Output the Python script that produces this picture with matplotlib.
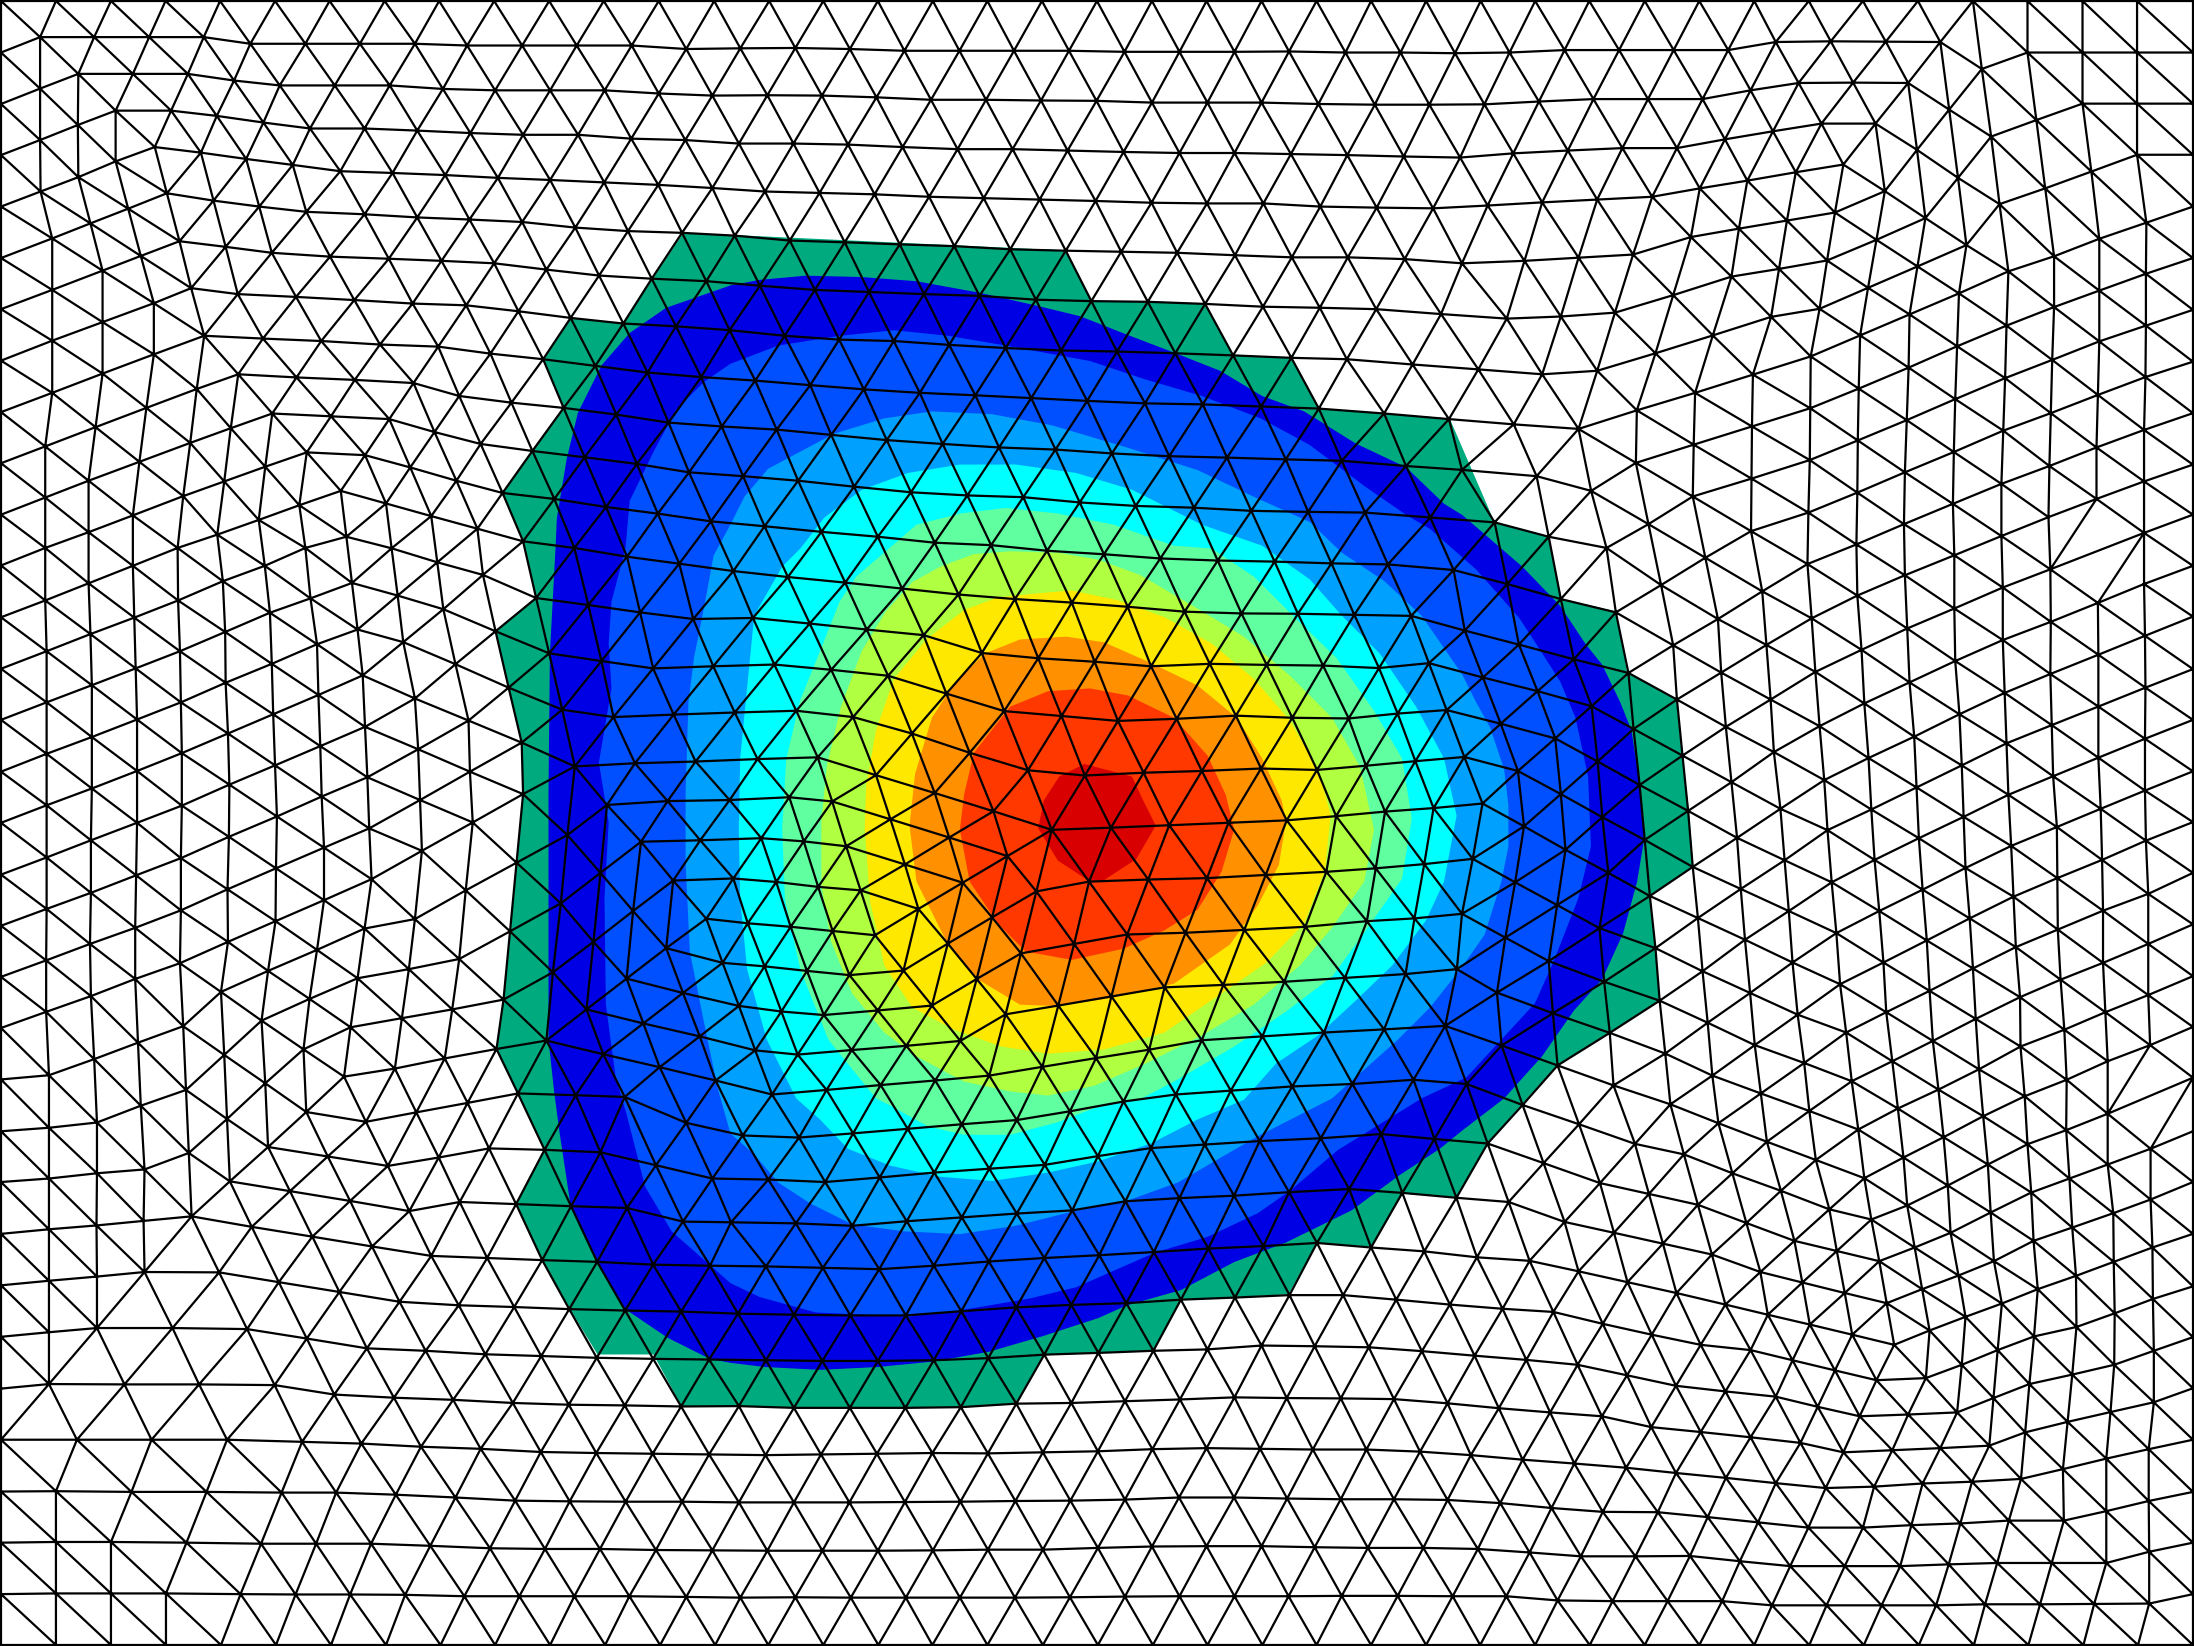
import numpy as np
import matplotlib
matplotlib.use("Agg")
import matplotlib.pyplot as plt
import matplotlib.tri as mtri

WIDTH = 2194
HEIGHT = 1646
CROP_W = 731
CROP_H = 549
CROP_SCALE = 1568
SHRUNK = 2194 / 1568

# mesh nodes, read tile by tile off the reference (tile pixels, 1568 per side)
nodes_tl = [
    (5,5),(120,5),(238,5),(355,5),(472,5),(590,5),(707,5),(825,5),(942,5),(1060,5),(1178,5),(1295,5),(1413,5),(1532,5),
    (5,150),(86,106),(202,106),(320,106),(437,106),(537,125),(655,125),(772,125),(890,125),(1002,130),(1120,130),(1237,130),(1355,130),(1472,140),
    (5,297),(86,253),(168,211),(285,211),(403,211),(502,230),(600,244),(718,244),(836,244),(950,254),(1062,258),(1180,258),(1297,258),(1413,267),(1528,273),
    (5,443),(86,400),(167,357),(248,316),(367,316),(465,331),(565,350),(665,367),(782,367),(895,373),(1009,380),(1122,385),(1240,385),(1354,396),(1470,400),
    (5,590),(87,547),(168,506),(248,461),(332,420),(431,436),(528,454),(628,471),(730,489),(842,494),(955,500),(1068,508),(1180,514),(1296,521),(1412,528),(1528,537),
    (5,737),(112,681),(194,638),(275,596),(358,552),(458,573),(556,590),(657,605),(782,612),(895,621),(1007,627),(1120,634),(1234,650),(1347,660),(1463,665),
    (5,883),(112,828),(220,773),(302,731),(385,689),(484,705),(583,722),(708,733),(834,739),(947,745),(1060,752),(1172,770),(1285,787),(1398,796),(1515,803),
    (5,1030),(112,973),(220,920),(330,866),(410,823),(510,840),(635,848),(760,857),(885,867),(1000,872),(1112,889),(1224,908),(1337,924),(1450,932),(1565,943),
    (5,1177),(112,1122),(220,1067),(330,1012),(438,959),(564,967),(689,974),(815,984),(940,990),(1052,1010),(1165,1026),(1277,1045),(1389,1064),(1504,1077),
    (5,1323),(97,1275),(205,1220),(314,1165),(422,1111),(511,1069),(636,1078),(761,1085),(887,1094),(985,1131),(1097,1150),(1209,1165),(1322,1184),(1434,1207),(1548,1218),
    (5,1470),(97,1421),(190,1373),(299,1319),(408,1265),(495,1223),(584,1181),(710,1189),(835,1197),(932,1234),(1031,1268),(1142,1288),(1254,1306),(1366,1325),(1478,1349),
    (97,1565),(190,1520),(285,1472),(393,1417),(481,1375),(569,1333),(658,1292),(783,1300),(880,1335),(979,1373),(1078,1408),(1189,1425),(1300,1448),(1411,1467),(1525,1489),
    (466,1527),(555,1485),(642,1443),(731,1402),(828,1438),(925,1474),(1024,1510),(1122,1546),(743,1533),
    (381,1565),(655,1565),(840,1566),(1232,1565),
]
nodes_tc = [
    (82,5),(198,5),(315,5),(433,5),(550,5),(667,5),(785,5),(903,5),(1020,5),(1138,5),(1256,5),(1373,5),(1491,5),
    (20,138),(138,137),(255,140),(372,145),(490,145),(607,145),(725,145),(844,148),(962,148),(1080,148),(1197,147),(1318,150),(1436,150),(1553,152),
    (78,272),(195,273),(312,278),(429,285),(547,285),(665,287),(784,288),(903,293),(1022,293),(1138,293),(1260,297),(1381,299),(1498,299),
    (17,410),(134,410),(251,413),(368,420),(486,426),(604,426),(722,430),(842,434),(962,437),(1080,437),(1201,440),(1322,443),(1443,447),(1564,450),
    (73,547),(190,551),(308,555),(425,562),(542,566),(662,570),(782,574),(902,579),(1021,581),(1142,581),(1264,590),(1385,593),(1506,595),
    (8,673),(126,687),(244,692),(362,698),(479,703),(599,712),(718,716),(837,719),(957,722),(1081,729),(1203,735),(1323,735),(1445,740),(1568,752),
    (62,816),(180,828),(296,834),(414,840),(533,845),(654,856),(773,860),(894,862),(1017,868),(1141,876),(1263,879),(1384,883),(1523,897),
    (0,945),(115,959),(232,970),(349,974),(468,985),(589,994),(708,1001),(828,1004),(953,1009),(1077,1015),(1202,1022),(1321,1026),(1462,1041),
    (52,1087),(170,1100),(285,1112),(405,1122),(524,1129),(644,1137),(764,1145),(888,1152),(1012,1155),(1137,1161),(1261,1167),(1401,1181),(1540,1197),
    (98,1227),(215,1242),(334,1257),(454,1268),(575,1278),(696,1284),(817,1295),(940,1303),(1064,1307),(1190,1312),(1310,1316),(1448,1331),(1568,1342),
    (26,1360),(144,1373),(264,1390),(386,1406),(507,1415),(627,1420),(748,1435),(868,1445),(993,1450),(1116,1459),(1238,1462),(1360,1464),(1500,1478),
    (72,1503),(194,1519),(315,1533),(437,1550),(558,1557),
]
nodes_tr = [
    (40,5),(157,5),(273,5),(392,5),(509,5),(627,5),(744,5),(860,5),(978,5),(1096,5),(1213,5),(1331,5),(1448,5),(1565,5),
    (102,150),(220,143),(337,143),(454,143),(571,143),(673,120),(791,118),(909,119),(1026,120),(1115,197),(1213,150),(1331,150),(1448,150),(1565,150),
    (48,298),(165,290),(282,283),(399,283),(516,283),(619,258),(722,237),(839,236),(957,237),(1045,313),(1232,343),(1331,296),(1448,296),(1565,296),
    (110,438),(227,430),(344,423),(461,423),(564,398),(667,375),(771,353),(887,353),(976,428),(1135,390),(1350,490),(1448,442),(1565,442),
    (55,587),(172,578),(290,570),(408,562),(510,538),(612,516),(716,492),(818,470),(907,546),(1064,508),(1251,538),(1468,636),(1565,590),
    (16,753),(134,745),(250,736),(367,727),(491,677),(594,653),(697,630),(800,607),(994,623),(1153,583),(1367,682),(1565,737),
    (96,910),(212,904),(328,893),(453,843),(578,790),(680,768),(783,744),(889,685),(1082,700),(1270,732),(1467,782),
    (35,1055),(172,1069),(290,1059),(415,1009),(538,958),(663,905),(767,882),(871,822),(977,761),(1172,775),(1367,830),(1565,885),
    (111,1212),(250,1225),(375,1172),(500,1122),(624,1070),(748,1018),(854,958),(960,898),(1066,838),(1270,877),(1467,930),
    (20,1347),(160,1360),(277,1402),(373,1322),(497,1270),(622,1218),(747,1166),(851,1110),(958,1050),(1062,989),(1168,930),(1367,975),(1565,1033),
    (70,1492),(186,1533),(400,1497),(495,1418),(621,1367),(746,1314),(849,1258),(954,1200),(1058,1140),(1165,1080),(1266,1028),(1466,1077),
    (310,1565),(620,1517),(743,1464),(848,1407),(950,1349),(1055,1291),(1161,1230),(1263,1180),(1364,1128),(1565,1180),
    (846,1555),(948,1497),(1053,1439),(1157,1382),(1260,1331),(1361,1278),(1463,1228),
    (1157,1531),(1258,1477),(1361,1425),(1565,1327),(1463,1375),(1463,1522),(1565,1470),
]
nodes_ml = [
    (5,47),(5,195),(5,342),(5,488),(5,636),(5,782),(5,930),(5,1076),(5,1222),(5,1368),(5,1515),
    (97,147),(100,292),(100,438),(100,585),(100,732),(100,881),(100,1028),(99,1175),(99,1322),(105,1503),
    (190,98),(194,243),(197,389),(197,537),(197,684),(195,832),(195,982),(193,1128),(195,1277),(202,1457),
    (285,48),(288,196),(291,341),(294,487),(294,634),(294,782),(292,932),(290,1082),(290,1228),(296,1410),
    (382,147),(386,292),(388,438),(390,583),(390,733),(388,883),(388,1032),(386,1183),(393,1363),(399,1545),
    (478,92),(483,237),(484,382),(489,527),(492,673),(491,822),(488,972),(489,1122),(474,1265),(481,1445),
    (568,48),(579,182),(583,328),(586,472),(590,618),(594,764),(592,912),(591,1063),(575,1205),(561,1347),(569,1526),
    (666,141),(680,272),(683,417),(687,563),(690,707),(695,853),(695,1003),(680,1145),(664,1285),(651,1429),
    (755,97),(767,230),(778,361),(783,508),(788,652),(792,798),(797,943),(782,1084),(767,1226),(752,1366),(738,1507),
    (853,133),(865,266),(890,427),(897,572),(901,717),(905,862),(890,1057),(877,1200),(862,1340),(847,1484),
    (938,38),(951,172),(977,329),(1005,490),(1008,636),(1014,781),(999,975),(985,1171),(970,1315),(954,1455),
    (1036,74),(1063,235),(1091,396),(1119,553),(1122,700),(1108,896),(1094,1092),(1080,1287),(1065,1428),(1111,1555),
    (1150,140),(1178,298),(1206,459),(1233,621),(1217,817),(1203,1012),(1186,1209),(1172,1404),(1235,1560),
    (1262,160),(1290,320),(1316,480),(1302,731),(1288,925),(1273,1122),(1258,1315),(1294,1443),(1340,1565),
    (1345,22),(1373,181),(1401,341),(1362,612),(1375,836),(1358,1034),(1344,1227),(1380,1355),(1415,1480),
    (1457,42),(1487,200),(1445,473),(1432,720),(1444,947),(1429,1140),(1465,1268),(1501,1392),(1535,1518),
    (1530,335),(1492,607),(1502,832),(1515,1056),(1550,1182),(1565,717),
]
nodes_mc = [
    (5,63),(122,80),(245,96),(367,113),(488,130),(609,143),(731,153),(851,165),(973,179),(1095,184),(1216,185),(1337,188),(1459,191),
    (678,5),(800,15),(921,27),(1044,33),(1166,36),(1288,41),(1409,44),(1550,60),
    (47,197),(169,213),(291,230),(413,246),(538,297),(659,312),(780,322),(901,335),(1027,328),(1149,331),(1270,333),(1390,340),(1497,326),
    (93,330),(215,345),(337,362),(462,413),(586,463),(709,477),(830,491),(956,485),(1083,476),(1204,482),(1325,484),(1430,470),(1535,460),
    (8,467),(140,462),(262,480),(388,527),(512,582),(637,632),(759,647),(885,639),(1010,634),(1137,627),(1257,631),(1362,619),(1468,606),
    (57,600),(186,595),(311,646),(437,697),(563,749),(688,802),(815,796),(940,789),(1067,782),(1192,775),(1298,763),(1403,750),(1507,740),
    (125,709),(217,721),(342,772),(468,824),(593,877),(768,950),(895,944),(1021,940),(1147,931),(1277,922),(1383,912),(1487,900),
    (65,826),(156,835),(247,849),(373,901),(497,953),(655,978),
    (5,941),(97,951),(187,965),(278,975),(402,1028),(560,1052),
    (36,1069),(128,1079),(218,1091),(309,1103),(465,1127),(736,1128),(850,1101),(975,1096),(1101,1088),(1232,1079),(1364,1063),(1466,1055),
    (72,1192),(163,1205),(254,1217),(370,1204),(527,1228),(622,1155),(816,1278),(930,1252),(1056,1245),(1187,1236),(1317,1225),(1447,1214),(1557,1200),
    (17,1305),(108,1321),(199,1331),(315,1318),(431,1304),(589,1329),(702,1304),
    (52,1432),(143,1444),(259,1431),(376,1419),(492,1405),(668,1479),(783,1454),(897,1430),(1010,1403),(1140,1392),(1272,1381),(1401,1372),(1532,1362),
    (88,1558),(205,1545),(321,1531),(438,1518),(554,1504),(954,1558),(1072,1547),(1204,1535),(1333,1528),(1464,1516),
]
nodes_mr = [
    (97,100),(212,143),(330,181),(303,5),(427,103),(522,25),(644,121),(741,43),(848,133),(950,75),(1056,18),(1056,170),(1160,110),(1262,58),(1364,154),(1463,100),
    (6,233),(122,273),(240,315),(357,354),(461,430),(566,508),(669,580),(777,660),(878,744),
    (45,367),(162,406),(278,449),(368,514),(473,590),(578,666),(683,742),(784,803),
    (83,499),(200,541),(291,607),(381,674),(485,748),(590,825),(692,889),(793,952),
    (5,594),(120,634),(212,700),(301,766),(392,831),(495,908),(598,971),(701,1034),(803,1097),
    (44,727),(133,792),(222,859),(314,925),(403,991),(506,1054),(607,1116),(709,1181),(811,1243),
    (23,885),(114,952),(204,1017),(295,1083),(415,1140),(516,1206),(618,1268),(720,1330),(824,1381),
    (0,1042),(93,1110),(186,1177),(305,1236),(424,1290),(527,1353),(628,1417),(734,1468),(836,1520),
    (75,1267),(195,1326),(317,1382),(436,1441),(537,1504),(641,1555),
    (85,1418),(205,1475),(325,1532),(10,1528),
    (453,275),(549,200),(750,198),(955,227),(1160,260),(1263,208),(1465,248),
    (556,353),(653,274),(857,288),(1058,320),(1262,357),(1365,302),(1565,343),
    (662,430),(758,351),(960,381),(1164,411),(1365,450),(1466,396),
    (767,506),(863,441),(1067,472),(1265,503),(1465,542),(1565,488),
    (872,597),(970,536),(1168,555),(1365,596),(1268,649),(1565,635),
    (671,581),(975,681),(1072,618),(1172,702),(1370,742),(1465,690),
    (1076,765),(1276,794),(1565,780),
    (980,826),(1178,848),(1373,888),(1467,833),
    (885,888),(1080,911),(1277,940),(1565,925),
    (988,973),(1183,993),(1472,985),
    (895,1034),(1089,1055),(1278,1087),(1375,1033),
    (997,1118),(1188,1137),(1472,1128),
    (904,1181),(1096,1198),(1375,1182),
    (1003,1262),(1284,1230),(1472,1274),
    (910,1323),(1102,1342),(1292,1373),(1380,1323),
    (1010,1405),(1197,1280),(1198,1421),(1476,1417),
    (923,1463),(1109,1486),(1385,1463),
    (1022,1544),(1297,1516),(1207,1563),
    (1565,48),(1565,193),(1565,1072),(1565,1220),(1565,1365),(1565,1510),
]
nodes_bl = [
    (5,95),(5,240),(5,388),(5,535),(5,682),(5,830),(5,976),(5,1124),(5,1270),(5,1417),(5,1563),
    (105,85),(208,70),(302,22),(105,230),(208,215),(310,204),(405,157),(487,60),(657,40),(785,68),(893,41),(1003,14),
    (575,140),(703,167),(832,194),(941,170),(1049,144),(1168,148),(1288,155),(1407,192),(1528,230),
    (105,375),(207,364),(308,351),(411,338),(493,238),(622,266),(751,294),(878,323),(986,297),(1107,303),(1225,309),(1345,314),(1465,353),(1568,355),
    (105,522),(208,510),(310,497),(470,498),(540,368),(670,396),(798,424),(925,451),(1045,457),(1163,463),(1281,468),(1401,476),(1523,479),
    (105,669),(208,657),(370,657),(530,660),(598,526),(728,554),(857,582),(984,592),(1103,597),(1221,603),(1341,607),(1461,610),
    (105,817),(267,818),(427,818),(589,820),(658,687),(787,715),(913,722),(1041,732),(1161,737),(1280,742),(1401,745),(1521,747),
    (165,976),(325,976),(487,976),(717,847),(845,856),(972,862),(1100,871),(1220,876),(1340,878),(1461,881),
    (120,1123),(282,1125),(443,1125),(648,982),(775,987),(903,996),(1031,1002),(1160,1011),(1279,1014),(1400,1016),(1521,1018),
    (604,1127),(721,1127),(849,1133),(977,1141),(1105,1150),(1222,1152),(1342,1153),(1463,1153),
    (120,1268),(238,1268),(400,1270),(560,1273),(678,1273),(796,1273),(923,1279),(1051,1286),(1169,1288),(1287,1288),(1407,1291),(1528,1292),
    (120,1415),(238,1415),(356,1415),(516,1417),(634,1418),(751,1418),(869,1419),(996,1423),(1114,1423),(1232,1423),(1350,1423),(1472,1425),
    (120,1563),(238,1563),(356,1563),(474,1563),(592,1563),(710,1563),(828,1563),(945,1563),(1062,1563),(1180,1563),(1298,1563),(1416,1563),(1534,1563),
    (1351,33),(1472,71),
]
nodes_bc = [
    (25,107),(146,113),(262,101),(379,88),(495,75),(613,63),(727,38),(842,10),
    (80,233),(202,240),(319,227),(436,213),(554,202),(673,191),(787,166),(901,143),(1016,133),(1134,123),(1265,115),(1395,103),(1509,117),
    (17,357),(139,358),(260,365),(377,352),(495,341),(613,330),(732,321),(846,295),(962,286),(1079,279),(1197,269),(1326,260),(1440,271),(1556,285),
    (75,481),(197,485),(318,489),(435,479),(553,467),(672,457),(790,449),(907,440),(1024,430),(1142,423),(1257,414),(1373,427),(1487,438),
    (15,616),(135,619),(256,621),(375,621),(494,609),(612,598),(730,591),(848,586),(965,576),(1081,570),(1198,563),(1313,563),(1427,576),(1542,590),
    (75,749),(196,751),(315,751),(435,749),(552,743),(672,733),(788,728),(906,722),(1022,718),(1138,707),(1252,709),(1368,712),(1482,723),
    (17,880),(135,885),(255,885),(374,885),(493,883),(612,873),(730,871),(845,866),(963,861),(1080,855),(1192,857),(1308,858),(1422,860),(1537,872),
    (74,1020),(193,1018),(313,1016),(432,1014),(551,1015),(669,1012),(787,1009),(904,1003),(1020,1000),(1135,1002),(1248,1004),(1363,1004),(1478,1010),
    (17,1155),(135,1155),(254,1155),(373,1154),(492,1153),(610,1151),(728,1150),(845,1147),(961,1141),(1079,1141),(1193,1144),(1308,1146),(1422,1146),(1537,1148),
    (78,1293),(196,1293),(315,1293),(433,1292),(551,1290),(669,1290),(787,1285),(903,1281),(1020,1280),(1138,1280),(1252,1283),(1366,1285),(1485,1285),
    (20,1427),(138,1426),(257,1427),(375,1427),(491,1427),(609,1427),(727,1426),(845,1424),(962,1423),(1080,1423),(1196,1423),(1310,1422),(1430,1422),(1548,1423),
    (80,1563),(198,1563),(316,1563),(432,1563),(550,1563),(669,1563),(787,1563),(905,1563),(1022,1563),(1140,1563),(1256,1563),(1373,1563),(1491,1563),
]
nodes_br = [
    (130,20),(251,75),(371,131),(476,161),(580,215),(684,265),(788,318),(878,347),(955,307),(1048,385),(1134,327),(1226,408),(1309,370),(1397,329),
    (447,18),(550,72),(654,125),(759,177),(863,229),(947,170),(1042,250),(1128,190),(1221,270),(1303,230),(1385,190),(1477,145),(1565,95),
    (745,37),(850,90),(935,30),(1033,112),(1118,52),(1213,132),(1296,92),(1385,45),(1477,290),(1565,240),
    (55,130),(175,186),(296,243),(401,274),(506,305),(610,357),(713,408),(804,437),(895,466),(971,427),(1065,507),(1141,466),(1235,546),(1317,508),(1398,468),(1481,427),(1565,388),
    (100,297),(220,354),(326,385),(431,416),(536,447),(640,497),(730,527),(821,557),(911,586),(987,546),(1080,625),(1158,587),
    (1003,664),(1149,720),(1227,681),(1318,654),(1400,615),(1482,574),(1565,538),
    (32,455),(145,465),(250,495),(355,526),(460,557),(565,590),(656,619),(746,647),(837,676),(927,705),(1072,762),(1217,817),(1309,790),(1399,762),(1484,722),(1565,683),
    (87,602),(196,611),(302,645),(407,676),(512,705),(619,720),(709,749),(800,778),(889,806),(995,800),(1140,857),(1299,925),(1391,897),(1484,869),(1565,829),
    (27,736),(138,748),(248,762),(354,792),(459,822),(565,838),(673,853),(763,882),(853,909),(957,904),(1062,898),(1208,955),(1382,1030),(1473,1003),(1565,976),
    (79,886),(189,898),(300,909),(406,940),(512,954),(619,969),(726,985),(818,1012),(923,1006),(1026,1000),(1131,993),(1289,1060),(1473,1151),(1565,1125),
    (19,1020),(130,1033),(241,1044),(352,1056),(459,1071),(566,1085),(673,1100),(780,1114),(884,1110),(988,1101),(1094,1096),(1199,1088),(1382,1180),(1474,1296),(1565,1270),
    (82,1157),(192,1171),(302,1182),(420,1183),(527,1197),(635,1212),(743,1227),(860,1227),(964,1220),(1069,1215),(1173,1207),(1291,1207),(1382,1328),(1474,1444),(1565,1417),
    (34,1288),(145,1298),(255,1309),(372,1309),(489,1308),(596,1323),(704,1337),(821,1337),(940,1337),(1044,1332),(1148,1328),(1265,1328),
    (95,1423),(205,1435),(323,1437),(441,1437),(558,1437),(665,1449),(782,1449),(900,1449),(1017,1449),(1122,1446),(1240,1446),(1356,1445),
    (39,1563),(157,1563),(274,1563),(392,1563),(509,1563),(627,1563),(745,1563),(862,1563),(980,1563),(1098,1563),(1215,1563),(1333,1563),(1450,1563),(1565,1563),
]

# filled bands, outer to inner, outlines in the 1568x1176 view of the reference
band_green = [(488,167),(525,168),(762,179),(780,215),(861,217),(881,254),(923,256),(943,292),(1036,299),(1068,373),(1107,384),(1116,428),(1155,437),(1163,481),(1198,500),(1202,540),(1207,579),(1210,619),(1179,640),(1183,678),(1186,715),(1150,738),(1113,761),(1063,817),(1041,856),(1002,853),(980,891),(941,888),(921,925),(844,929),(824,965),(746,968),(726,1003),(687,1006),(567,1006),(528,1005),(487,1005),(467,968),(427,968),(407,935),(387,900),(369,860),(389,822),(370,781),(355,750),(360,715),(365,665),(369,617),(374,567),(373,531),(364,492),(354,451),(383,427),(374,387),(359,352),(380,322),(403,291),(388,257),(408,227),(445,231)]
band_navy = [(522,204),(476,220),(450,238),(430,261),(413,295),(405,328),(398,370),(397,392),(393,467),(392,567),(392,743),(396,780),(400,810),(408,863),(427,903),(446,935),(477,956),(507,971),(522,974),(547,977),(586,979),(627,977),(668,973),(707,966),(745,955),(785,942),(805,933),(844,922),(882,902),(919,888),(966,865),(1000,840),(1029,821),(1045,808),(1075,785),(1102,755),(1125,722),(1145,700),(1160,667),(1170,630),(1175,600),(1171,555),(1166,522),(1158,502),(1145,475),(1133,460),(1115,433),(1088,405),(1045,368),(1032,360),(1005,334),(969,317),(932,294),(902,283),(872,265),(839,252),(805,239),(772,226),(739,218),(699,209),(655,201),(616,198),(576,197),(543,200)]
band_blue = [(522,260),(503,273),(483,293),(467,323),(450,358),(447,392),(437,430),(435,460),(437,492),(428,545),(435,588),(432,642),(433,718),(440,770),(448,797),(461,848),(480,880),(522,917),(543,927),(583,938),(649,941),(689,936),(736,928),(769,920),(826,895),(863,884),(899,867),(922,851),(956,822),(1016,785),(1048,770),(1073,743),(1097,717),(1110,688),(1128,642),(1137,605),(1135,555),(1126,513),(1115,487),(1101,465),(1086,442),(1071,425),(1055,407),(1022,378),(1005,368),(976,348),(936,318),(901,299),(859,283),(818,271),(779,258),(719,247),(678,240),(639,236),(600,240),(556,247)]
band_sky = [(522,375),(532,355),(549,335),(596,310),(632,299),(666,294),(709,296),(752,304),(806,320),(856,336),(896,355),(936,373),(959,395),(989,415),(1016,440),(1045,482),(1055,502),(1065,520),(1075,550),(1078,575),(1078,605),(1073,630),(1061,668),(1045,691),(1022,720),(999,743),(952,785),(899,812),(873,827),(842,845),(806,858),(766,866),(726,876),(686,882),(646,880),(609,875),(579,860),(556,845),(539,825),(522,810),(513,778),(503,730),(493,680),(490,617),(490,567),(492,502),(496,470),(503,435),(510,397)]
band_cyan = [(572,392),(589,370),(616,350),(649,338),(686,332),(726,332),(769,338),(809,350),(845,368),(859,375),(902,390),(936,414),(959,440),(986,467),(1012,505),(1032,542),(1041,583),(1032,630),(1019,658),(995,690),(969,715),(942,740),(912,760),(889,786),(856,800),(823,817),(785,830),(749,838),(709,844),(672,841),(636,833),(606,821),(586,800),(569,785),(548,743),(534,693),(529,643),(528,592),(529,542),(539,440),(559,405)]
band_mint = [(640,388),(655,375),(686,367),(719,363),(756,367),(796,375),(839,390),(866,392),(896,412),(926,442),(955,470),(982,508),(1002,542),(1009,585),(1002,628),(974,668),(952,698),(919,723),(882,748),(839,773),(816,785),(782,792),(756,802),(722,811),(689,811),(663,805),(636,790),(626,785),(592,743),(572,693),(561,643),(559,592),(562,542),(572,500),(587,463),(600,430),(612,412)]
band_lime = [(652,416),(672,405),(696,396),(722,394),(756,395),(785,400),(815,411),(856,435),(889,455),(922,483),(952,513),(972,548),(982,593),(975,630),(952,663),(929,690),(896,718),(859,740),(819,760),(782,776),(749,783),(722,780),(689,773),(655,755),(632,738),(609,710),(594,673),(587,633),(587,587),(591,547),(601,505),(616,465),(633,437)]
band_yellow = [(689,436),(713,427),(742,424),(766,422),(799,429),(832,441),(866,460),(896,485),(922,515),(942,550),(951,582),(947,622),(932,660),(905,688),(873,710),(832,738),(789,750),(749,753),(716,748),(682,736),(652,720),(632,690),(622,645),(618,593),(619,562),(626,522),(639,485),(662,457)]
band_orange = [(704,467),(729,457),(762,455),(789,459),(823,474),(856,490),(884,513),(902,542),(916,572),(919,587),(914,618),(899,647),(879,675),(839,703),(796,713),(755,719),(729,718),(699,700),(676,672),(655,630),(650,590),(654,553),(666,513),(683,487)]
band_red = [(722,505),(749,494),(779,492),(806,497),(839,513),(863,540),(876,568),(882,593),(873,623),(856,650),(832,665),(803,678),(766,686),(733,680),(713,660),(693,630),(686,593),(689,568),(696,538)]
band_core = [(757,555),(775,546),(809,555),(817,572),(826,590),(812,614),(789,629),(779,630),(756,615),(742,592),(746,572)]

band_colors = ["#00aa7f", "#0000e4", "#0050ff", "#00a0ff", "#00ffff", "#60ffa0",
               "#b0ff40", "#ffe800", "#ff9000", "#ff3800", "#d80000"]


def tile_to_full(nodes, col, row):
    # tiles are 731x549 crops that the viewer showed 1568 wide and 1568 tall
    pts = np.array(nodes, dtype=float)
    pts[:, 0] = col * CROP_W + pts[:, 0] * CROP_W / CROP_SCALE
    pts[:, 1] = row * CROP_H + pts[:, 1] * CROP_H / CROP_SCALE
    return pts


def merge_nodes(points, tol=15.0):
    # neighbouring tiles overlap on their edges, keep the first reading
    kept = []
    for p in points:
        if kept:
            d = np.hypot(*(np.array(kept) - p).T)
            if d.min() < tol:
                continue
        kept.append(p)
    kept = np.array(kept)
    kept[kept[:, 0] < 8, 0] = 1
    kept[kept[:, 0] > WIDTH - 8, 0] = WIDTH - 1
    kept[kept[:, 1] < 8, 1] = 1
    kept[kept[:, 1] > HEIGHT - 8, 1] = HEIGHT - 1
    return kept


def main():
    tiles = [(nodes_tl, 0, 0), (nodes_tc, 1, 0), (nodes_tr, 2, 0),
             (nodes_ml, 0, 1), (nodes_mc, 1, 1), (nodes_mr, 2, 1),
             (nodes_bl, 0, 2), (nodes_bc, 1, 2), (nodes_br, 2, 2)]
    points = np.vstack([tile_to_full(n, c, r) for n, c, r in tiles])
    points = merge_nodes(points)

    # square cells are a tie for Delaunay, the small shear picks the
    # down-right diagonal like the reference has
    sheared = mtri.Triangulation(points[:, 0] - 0.03 * points[:, 1], points[:, 1])
    mesh = mtri.Triangulation(points[:, 0], points[:, 1], triangles=sheared.triangles)

    fig = plt.figure(figsize=(WIDTH / 100, HEIGHT / 100), dpi=100)
    ax = fig.add_axes([0, 0, 1, 1])

    bands = [band_green, band_navy, band_blue, band_sky, band_cyan, band_mint,
             band_lime, band_yellow, band_orange, band_red, band_core]
    for band, color in zip(bands, band_colors):
        outline = np.array(band, dtype=float) * SHRUNK
        ax.fill(outline[:, 0], outline[:, 1], color=color, lw=0)

    ax.triplot(mesh, color="black", lw=1.6)

    ax.set_xlim(0, WIDTH)
    ax.set_ylim(HEIGHT, 0)
    ax.axis("off")
    fig.savefig("out.png", dpi=100)


if __name__ == "__main__":
    main()
